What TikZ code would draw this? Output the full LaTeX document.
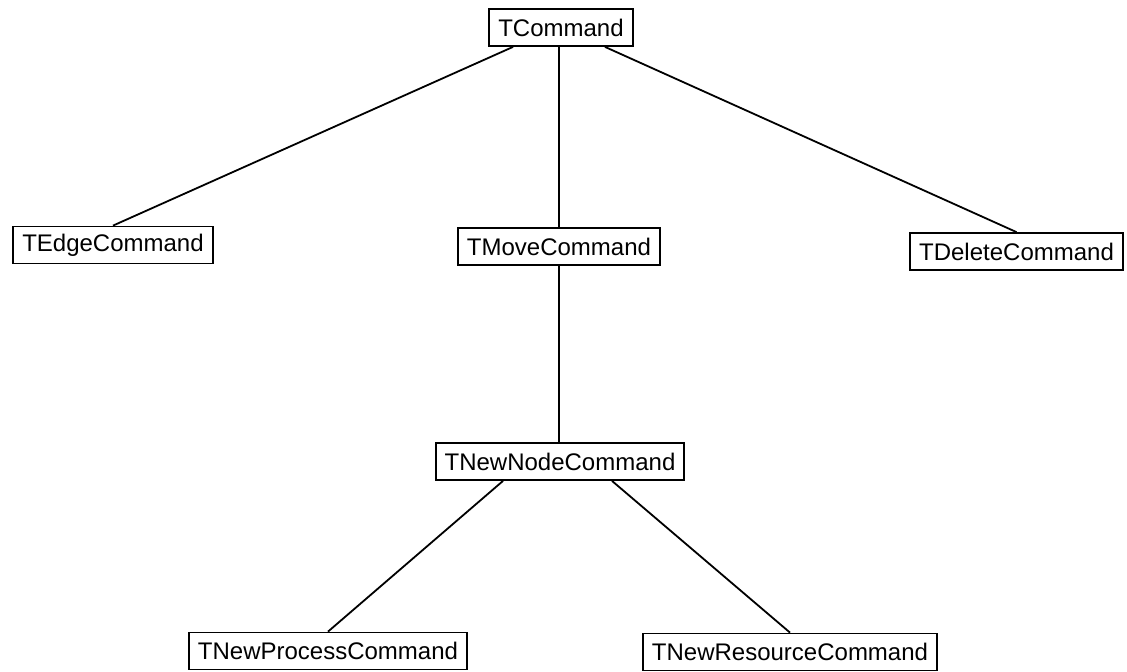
\documentclass[tikz,border=0pt]{standalone}
\usepackage{fontspec}
\setmainfont{Liberation Sans}
\tikzset{cls/.style={draw,line width=0.9pt,inner xsep=4.5pt,minimum height=18.5pt,font=\fontsize{12}{14}\selectfont}}
\begin{document}
\begin{tikzpicture}[x=0.5pt,y=-0.5pt,line width=0.9pt]
        \useasboundingbox (0,0) rectangle (1127,671);
        %disegno classi
        \node[cls] (cmd) at (561,27.5) {TCommand};
        \node[cls] (edge) at (113,245) {TEdgeCommand};
        \node[cls] (move) at (559,246.5) {TMoveCommand};
        \node[cls] (del) at (1016.5,251.5) {TDeleteCommand};
        \node[cls] (newnode) at (560,461.5) {TNewNodeCommand};
        \node[cls] (newproc) at (328,651) {TNewProcessCommand};
        \node[cls] (newres) at (790,652) {TNewResourceCommand};

        %collego TCommand
        \draw ([xshift=-24pt]cmd.south)--(edge.north);
        \draw (move.north)--(move.north |- cmd.south);
        \draw ([xshift=22pt]cmd.south)--(del.north);

        %collego TMoveCommand
        \draw (move.south)--(move.south |- newnode.north);

        %collego TNewNodeCommand
        \draw ([xshift=-28.5pt]newnode.south)--(newproc.north);
        \draw ([xshift=26pt]newnode.south)--(newres.north);
\end{tikzpicture}
\end{document}
